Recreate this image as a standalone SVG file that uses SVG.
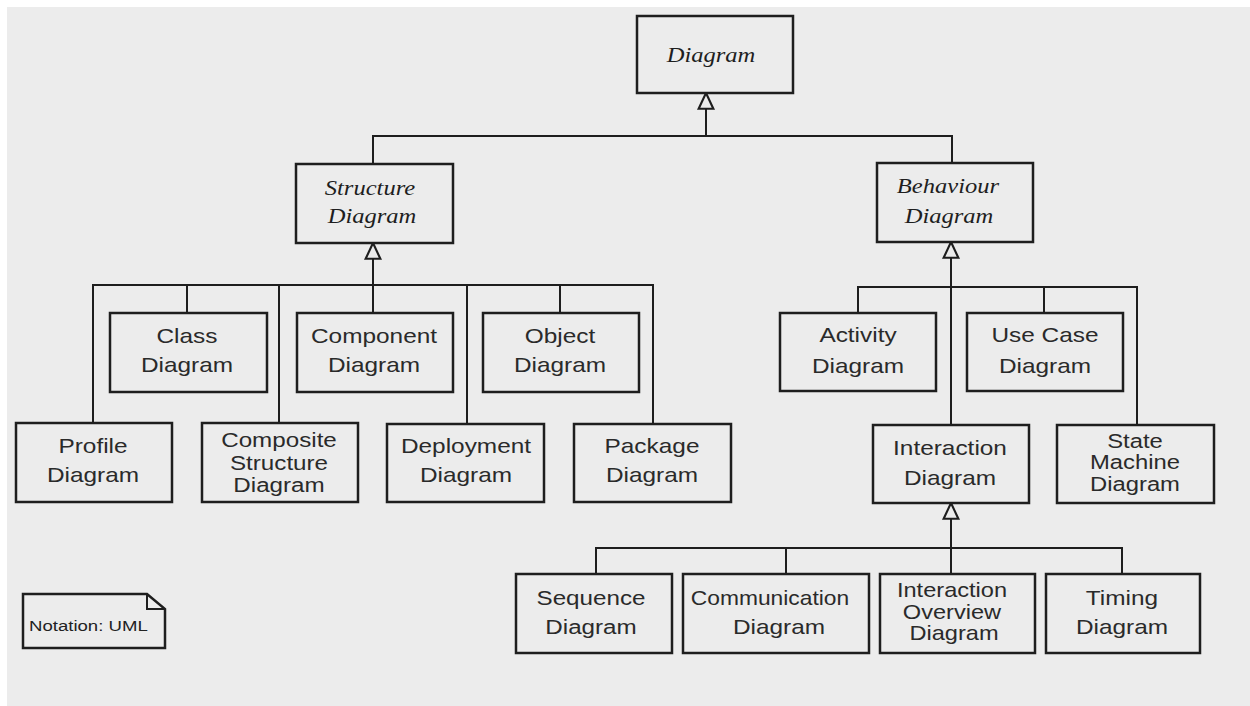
<svg xmlns="http://www.w3.org/2000/svg" width="1250" height="706" viewBox="0 0 1250 706">
<defs>
<style>
.bg{fill:#ececec}
.box{fill:#ececec;stroke:#1e1e1e;stroke-width:2.5}
.ln{fill:none;stroke:#1e1e1e;stroke-width:2}
.t{font-family:"Liberation Sans",Arial,sans-serif;font-size:20px;fill:#2a2a2a;text-anchor:middle}
.a{font-family:"Liberation Serif","Times New Roman",serif;font-style:italic;font-size:21px;fill:#1e1e1e;text-anchor:middle}
.n{font-family:"Liberation Sans",Arial,sans-serif;font-size:15px;fill:#222}
</style>
<marker id="gen" markerUnits="userSpaceOnUse" markerWidth="20" markerHeight="20" viewBox="-2 -9 19 18" refX="0" refY="0" orient="auto">
<polygon points="0,0 15,-7 15,7" fill="#ececec" stroke="#1e1e1e" stroke-width="2"/>
</marker>
</defs>
<rect width="1250" height="706" fill="#ffffff"/>
<rect class="bg" x="7" y="7" width="1243" height="699"/>

<g id="connectors">
<path class="ln" marker-start="url(#gen)" d="M706,93 V136"/>
<path class="ln" d="M373,164 V136 H952 V163"/>
<path class="ln" marker-start="url(#gen)" d="M373,243 V313"/>
<path class="ln" d="M93,423 V285 H653 V424 M187,285 V313 M279,285 V423 M467,285 V424 M560,285 V313"/>
<path class="ln" marker-start="url(#gen)" d="M951,242 V425"/>
<path class="ln" d="M858,313 V287 H1137 V425 M1044,287 V313"/>
<path class="ln" marker-start="url(#gen)" d="M951,503 V574"/>
<path class="ln" d="M596,574 V548 H1122 V574 M786,548 V574"/>
</g>

<g id="diagram">
<rect class="box" x="637" y="16" width="156" height="77"/>
<text class="a" transform="matrix(1.17 0 0 1 711 0)" x="0" y="62">Diagram</text>
</g>
<g id="structure">
<rect class="box" x="296" y="164" width="157" height="79"/>
<text class="a" transform="matrix(1.17 0 0 1 370 0)" x="0" y="195">Structure</text>
<text class="a" transform="matrix(1.17 0 0 1 372 0)" x="0" y="223">Diagram</text>
</g>
<g id="behaviour">
<rect class="box" x="877" y="163" width="156" height="79"/>
<text class="a" transform="matrix(1.17 0 0 1 948 0)" x="0" y="193">Behaviour</text>
<text class="a" transform="matrix(1.17 0 0 1 949 0)" x="0" y="223">Diagram</text>
</g>

<g id="class">
<rect class="box" x="110" y="313" width="157" height="79"/>
<text class="t" transform="matrix(1.22 0 0 1 187 0)" x="0" y="343">Class</text>
<text class="t" transform="matrix(1.22 0 0 1 187 0)" x="0" y="372">Diagram</text>
</g>
<g id="component">
<rect class="box" x="297" y="313" width="156" height="79"/>
<text class="t" transform="matrix(1.22 0 0 1 374 0)" x="0" y="343">Component</text>
<text class="t" transform="matrix(1.22 0 0 1 374 0)" x="0" y="372">Diagram</text>
</g>
<g id="object">
<rect class="box" x="483" y="313" width="156" height="79"/>
<text class="t" transform="matrix(1.22 0 0 1 560 0)" x="0" y="343">Object</text>
<text class="t" transform="matrix(1.22 0 0 1 560 0)" x="0" y="372">Diagram</text>
</g>
<g id="profile">
<rect class="box" x="16" y="423" width="156" height="79"/>
<text class="t" transform="matrix(1.22 0 0 1 93 0)" x="0" y="453">Profile</text>
<text class="t" transform="matrix(1.22 0 0 1 93 0)" x="0" y="482">Diagram</text>
</g>
<g id="composite">
<rect class="box" x="202" y="423" width="156" height="79"/>
<text class="t" transform="matrix(1.21 0 0 1 279 0)" x="0" y="447">Composite</text>
<text class="t" transform="matrix(1.21 0 0 1 279 0)" x="0" y="470">Structure</text>
<text class="t" transform="matrix(1.21 0 0 1 279 0)" x="0" y="492">Diagram</text>
</g>
<g id="deployment">
<rect class="box" x="387" y="424" width="157" height="78"/>
<text class="t" transform="matrix(1.22 0 0 1 466 0)" x="0" y="453">Deployment</text>
<text class="t" transform="matrix(1.22 0 0 1 466 0)" x="0" y="482">Diagram</text>
</g>
<g id="package">
<rect class="box" x="574" y="424" width="157" height="78"/>
<text class="t" transform="matrix(1.22 0 0 1 652 0)" x="0" y="453">Package</text>
<text class="t" transform="matrix(1.22 0 0 1 652 0)" x="0" y="482">Diagram</text>
</g>

<g id="activity">
<rect class="box" x="780" y="313" width="156" height="78"/>
<text class="t" transform="matrix(1.22 0 0 1 858 0)" x="0" y="342">Activity</text>
<text class="t" transform="matrix(1.22 0 0 1 858 0)" x="0" y="373">Diagram</text>
</g>
<g id="usecase">
<rect class="box" x="967" y="313" width="156" height="78"/>
<text class="t" transform="matrix(1.22 0 0 1 1045 0)" x="0" y="342">Use Case</text>
<text class="t" transform="matrix(1.22 0 0 1 1045 0)" x="0" y="373">Diagram</text>
</g>
<g id="interaction">
<rect class="box" x="873" y="425" width="156" height="78"/>
<text class="t" transform="matrix(1.22 0 0 1 950 0)" x="0" y="455">Interaction</text>
<text class="t" transform="matrix(1.22 0 0 1 950 0)" x="0" y="485">Diagram</text>
</g>
<g id="statemachine">
<rect class="box" x="1057" y="425" width="157" height="78"/>
<text class="t" transform="matrix(1.19 0 0 1 1135 0)" x="0" y="448">State</text>
<text class="t" transform="matrix(1.19 0 0 1 1135 0)" x="0" y="469">Machine</text>
<text class="t" transform="matrix(1.19 0 0 1 1135 0)" x="0" y="491">Diagram</text>
</g>

<g id="sequence">
<rect class="box" x="516" y="574" width="156" height="79"/>
<text class="t" transform="matrix(1.21 0 0 1 591 0)" x="0" y="605">Sequence</text>
<text class="t" transform="matrix(1.21 0 0 1 591 0)" x="0" y="634">Diagram</text>
</g>
<g id="communication">
<rect class="box" x="683" y="574" width="186" height="79"/>
<text class="t" transform="matrix(1.14 0 0 1 770 0)" x="0" y="605">Communication</text>
<text class="t" transform="matrix(1.22 0 0 1 779 0)" x="0" y="634">Diagram</text>
</g>
<g id="interactionoverview">
<rect class="box" x="880" y="574" width="155" height="79"/>
<text class="t" transform="matrix(1.18 0 0 1 952 0)" x="0" y="597">Interaction</text>
<text class="t" transform="matrix(1.18 0 0 1 952 0)" x="0" y="619">Overview</text>
<text class="t" transform="matrix(1.18 0 0 1 954 0)" x="0" y="640">Diagram</text>
</g>
<g id="timing">
<rect class="box" x="1046" y="574" width="154" height="79"/>
<text class="t" transform="matrix(1.22 0 0 1 1122 0)" x="0" y="605">Timing</text>
<text class="t" transform="matrix(1.22 0 0 1 1122 0)" x="0" y="634">Diagram</text>
</g>

<g id="note">
<path class="box" d="M23,594 H147 L165,609 V648 H23 Z"/>
<path class="ln" d="M147,594 V609 H165"/>
<text class="n" transform="matrix(1.24 0 0 1 29 0)" x="0" y="631">Notation: UML</text>
</g>
</svg>
